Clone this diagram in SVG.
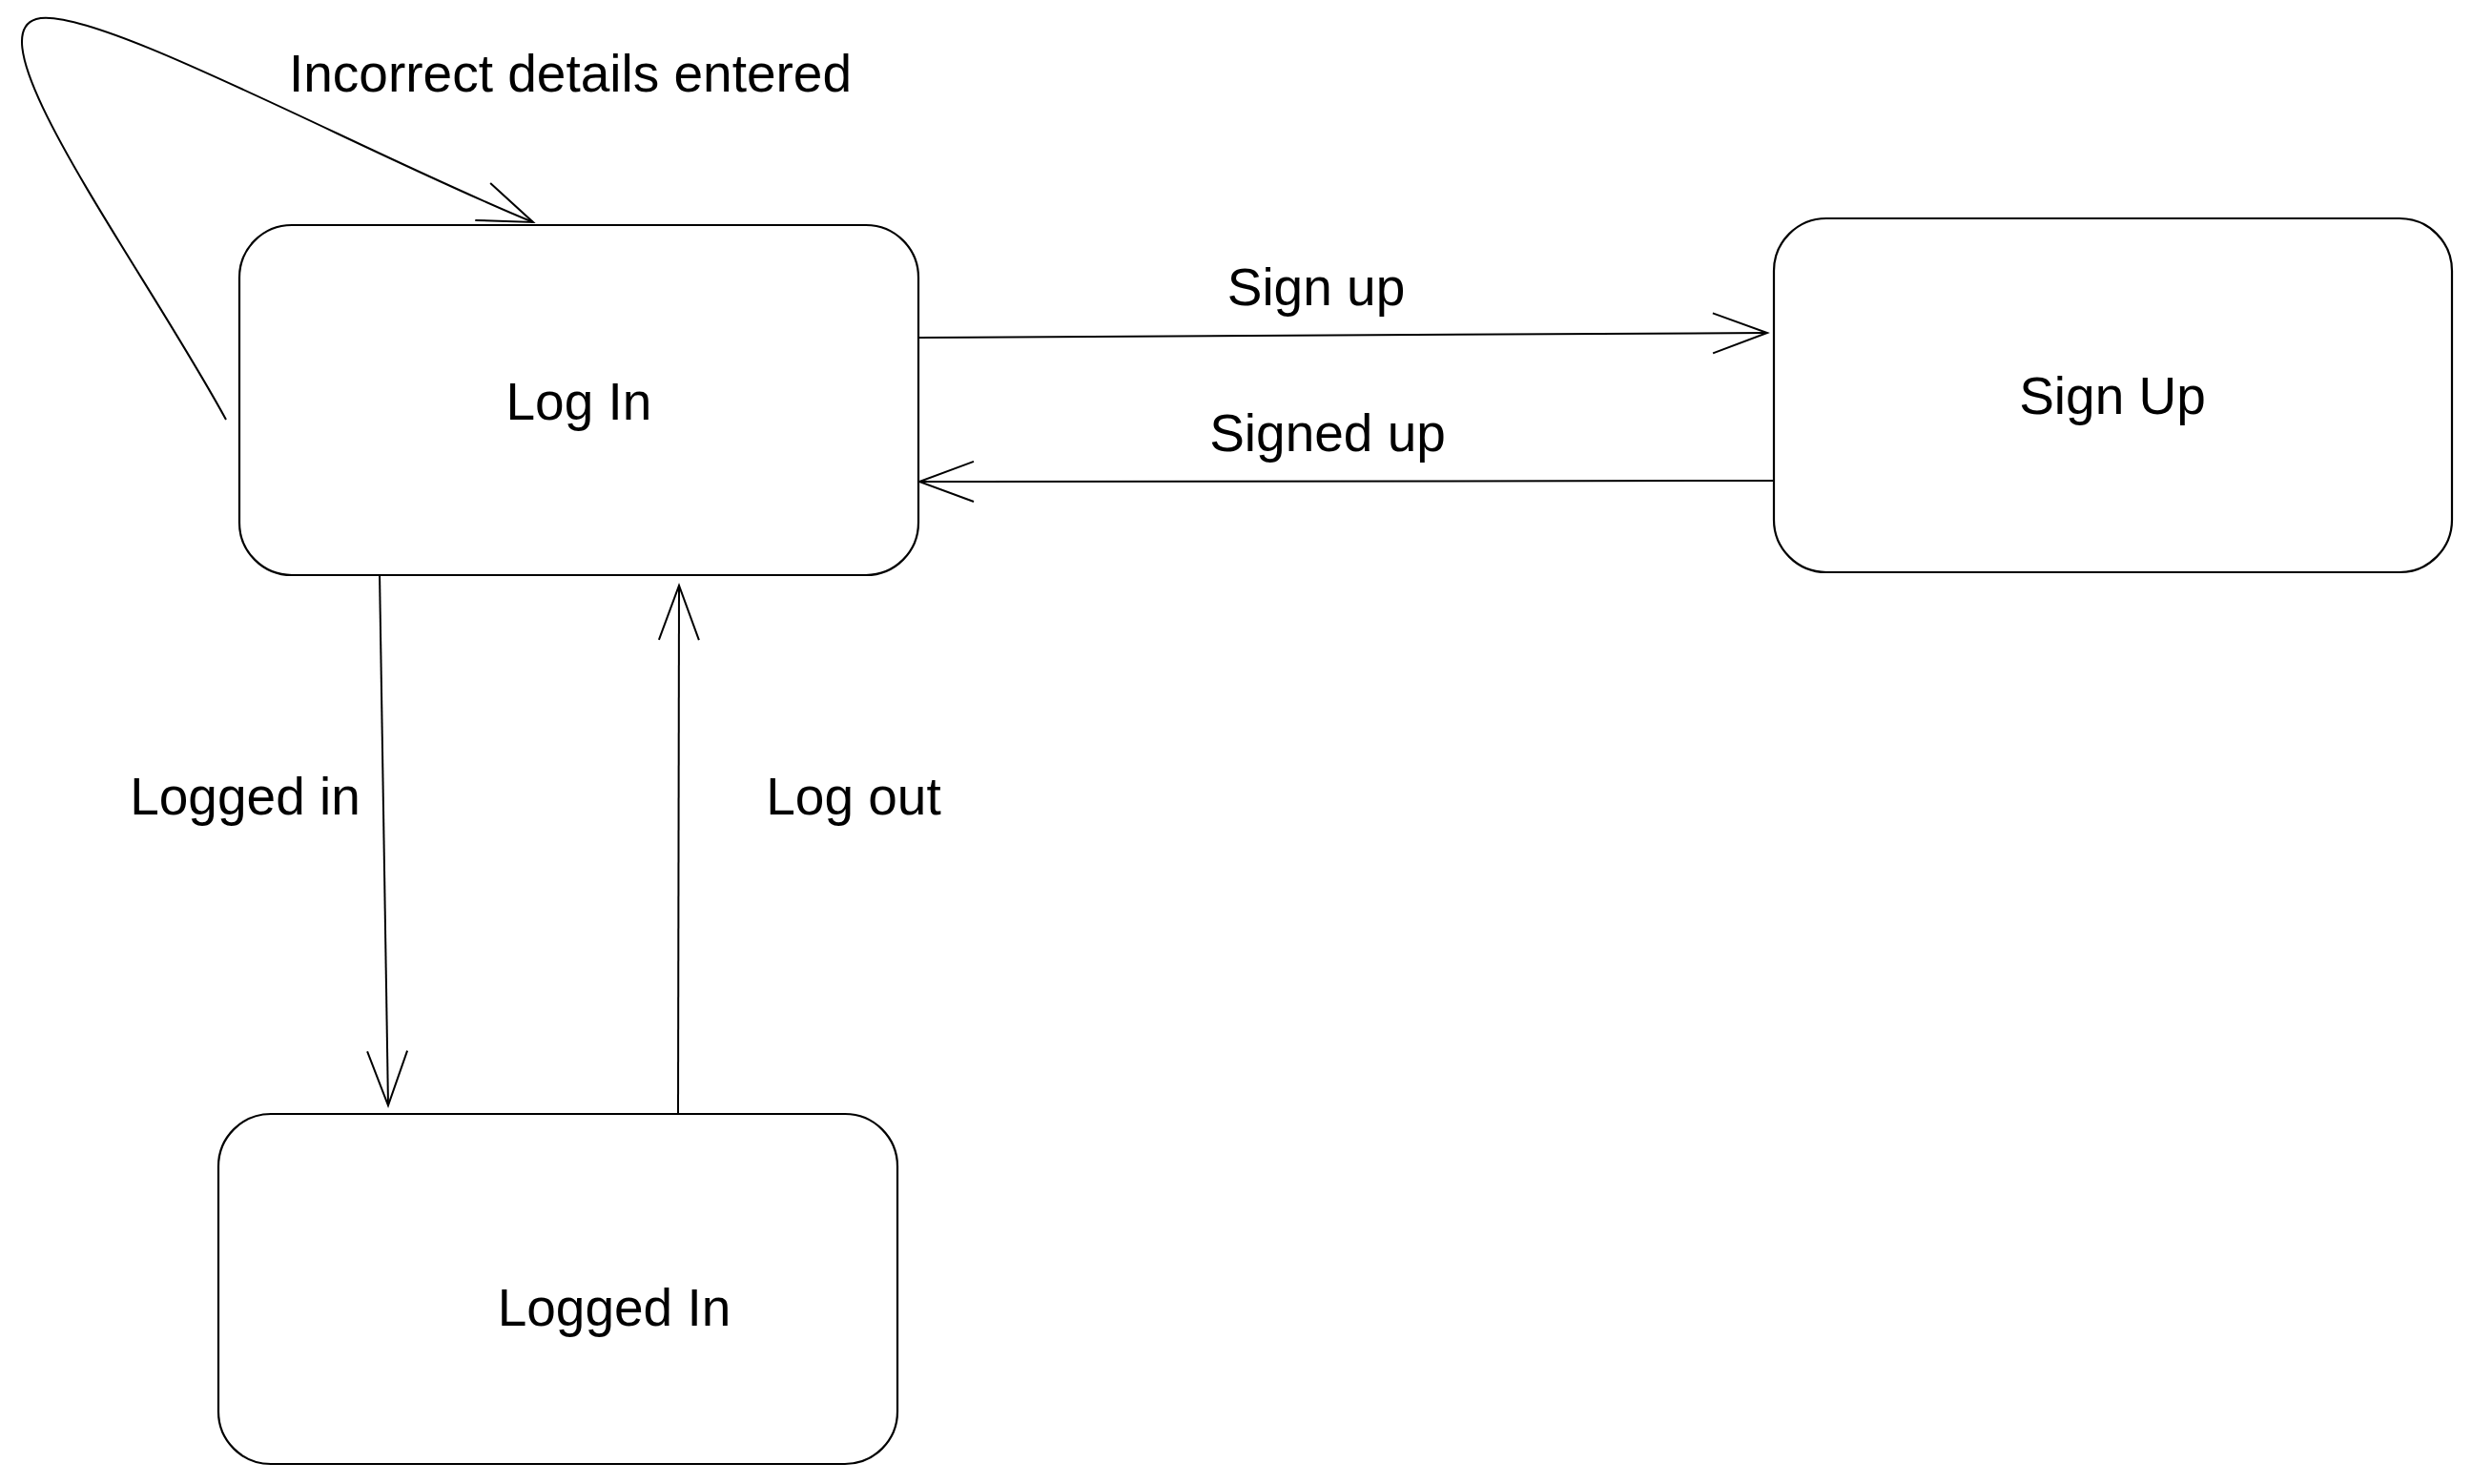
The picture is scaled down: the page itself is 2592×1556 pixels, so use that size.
<svg xmlns="http://www.w3.org/2000/svg" width="2592" height="1556" viewBox="0 0 2592 1556">
<style>
.node{fill:#fff;stroke:#000;stroke-width:2.2}
.edge{fill:none;stroke:#000;stroke-width:2}
.lbl{font-family:"Liberation Sans",Arial,Helvetica,sans-serif;font-size:55px;fill:#000;text-anchor:middle}
</style>
<defs>
<marker id="open" viewBox="-62 -25 66 50" refX="0" refY="0" markerWidth="66" markerHeight="50" markerUnits="userSpaceOnUse" orient="auto" overflow="visible">
<path d="M -57 -21 L 0 0 L -57 21" fill="none" stroke="#000" stroke-width="2"/>
</marker>
</defs>
<rect width="2592" height="1556" fill="#fff"/>
<g id="connectors">
<path class="edge" d="M 237 440 C 150 280 -30 40 38 20 C 95 3 380 160 559 233" marker-end="url(#open)"/>
<path class="edge" d="M 963 354 L 1853 349" marker-end="url(#open)"/>
<path class="edge" d="M 1865 504 L 964 505" marker-end="url(#open)"/>
<path class="edge" d="M 398 600 L 407 1159" marker-end="url(#open)"/>
<path class="edge" d="M 711 1168 L 712 614" marker-end="url(#open)"/>
<text class="lbl" x="598" y="96">Incorrect details entered</text>
<text class="lbl" x="1380" y="320">Sign up</text>
<text class="lbl" x="1392" y="473">Signed up</text>
<text class="lbl" x="257" y="854">Logged in</text>
<text class="lbl" x="895" y="854">Log out</text>
</g>
<g id="node-login">
<rect class="node" x="251" y="236" width="712" height="367" rx="55" ry="55"/>
<text class="lbl" x="607" y="440">Log In</text>
</g>
<g id="node-signup">
<rect class="node" x="1860" y="229" width="711" height="371" rx="55" ry="55"/>
<text class="lbl" x="2215" y="434">Sign Up</text>
</g>
<g id="node-loggedin">
<rect class="node" x="229" y="1168" width="712" height="367" rx="55" ry="55"/>
<text class="lbl" x="644" y="1390">Logged In</text>
</g>
</svg>
